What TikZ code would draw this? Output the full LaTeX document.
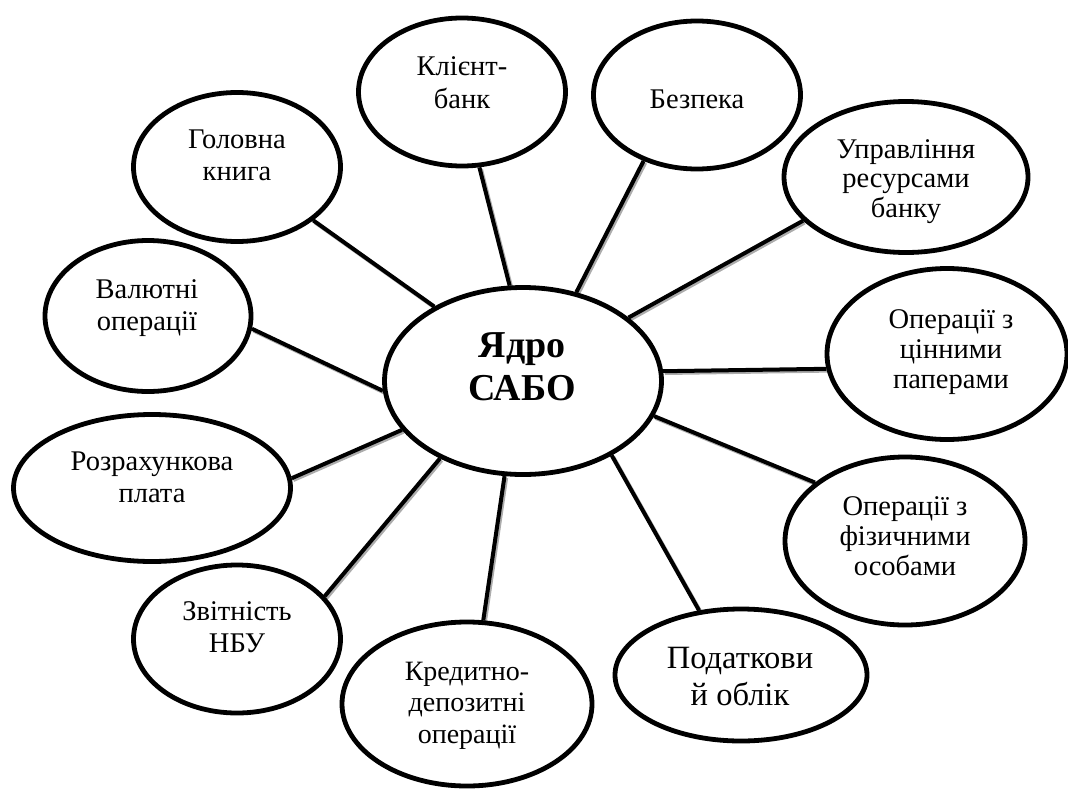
\documentclass[tikz,border=0pt]{standalone}
\usepackage{fontspec}
\setmainfont{Liberation Serif}
\newfontfamily\tnr{Liberation Serif}
\usetikzlibrary{shapes.geometric}
\pgfdeclarelayer{bg}
\pgfsetlayers{bg,main}
\begin{document}
\begin{tikzpicture}[x=1pt,y=-1pt,
  ell/.style={draw, ellipse, line width=4.8pt, fill=white, inner sep=0pt},
  conn/.style={line width=4pt, black,
    preaction={draw=gray!65, line width=4pt, transform canvas={shift={(1.6pt,-1.8pt)}}}},
  lbl/.style={align=center, anchor=base, inner sep=0pt},
  sz/.style={font=\tnr\fontsize{28.5}{32}\selectfont},
  szs/.style={font=\tnr\fontsize{28.5}{30}\selectfont}
]
\useasboundingbox (0,0) rectangle (1068,790);
% ellipses
\node[ell, minimum width=277pt, minimum height=187pt] (core) at (523,381) {};
\node[ell, minimum width=207pt, minimum height=148pt] (kb) at (462,92) {};
\node[ell, minimum width=207pt, minimum height=148pt] (bez) at (697,95) {};
\node[ell, minimum width=244pt, minimum height=151pt] (upr) at (906,177) {};
\node[ell, minimum width=240pt, minimum height=171pt] (cin) at (947,354) {};
\node[ell, minimum width=240pt, minimum height=168pt] (fiz) at (905,541) {};
\node[ell, minimum width=252pt, minimum height=132pt] (pod) at (741,675) {};
\node[ell, minimum width=250pt, minimum height=164pt] (kred) at (467,704) {};
\node[ell, minimum width=207pt, minimum height=148pt] (zvit) at (237,639) {};
\node[ell, minimum width=277pt, minimum height=147pt] (roz) at (152,488) {};
\node[ell, minimum width=206pt, minimum height=151pt] (val) at (148,316) {};
\node[ell, minimum width=207pt, minimum height=149pt] (gk) at (237,167) {};
% connectors
\begin{pgfonlayer}{bg}
\draw[conn] (gk.-35) -- (core.140.6);
\draw[conn] (kb.-77) -- (core.98.9);
\draw[conn] (bez.-129.4) -- (core.59.7);
\draw[conn] (upr.-157.4) -- (core.31.2);
\draw[conn] (cin.187.7) -- (core.4.5);
\draw[conn] (fiz.147.3) -- (core.-15.9);
\draw[conn] (pod.123.3) -- (core.-40.5);
\draw[conn] (kred.79.6) -- (core.-101.8);
\draw[conn] (zvit.26.6) -- (core.-137.4);
\draw[conn] (roz.4.5) -- (core.-158.3);
\draw[conn] (val.-7.7) -- (core.184.5);
\end{pgfonlayer}
% labels (anchor = baseline of last line)
\node[lbl, font=\tnr\bfseries\fontsize{38}{43}\selectfont] (tcore) at (522,400) {Ядро\\САБО};
\node[lbl, font=\tnr\fontsize{28.5}{33}\selectfont] (tkb) at (462,108) {Клієнт-\\банк};
\node[lbl, sz] (tbez) at (697,108) {Безпека};
\node[lbl, font=\tnr\fontsize{28.5}{29.5}\selectfont] (tupr) at (906,217) {Управління\\ресурсами\\банку};
\node[lbl, szs] (tcin) at (951,388) {Операції з\\цінними\\паперами};
\node[lbl, szs] (tfiz) at (905,575) {Операції з\\фізичними\\особами};
\node[lbl, font=\tnr\fontsize{32.5}{37}\selectfont] (tpod) at (740,705) {Податкови\\й облік};
\node[lbl, font=\tnr\fontsize{28}{31.5}\selectfont] (tkred) at (467,743) {Кредитно-\\депозитні\\операції};
\node[lbl, sz] (tzvit) at (237,652) {Звітність\\НБУ};
\node[lbl, sz] (troz) at (152,502) {Розрахункова\\плата};
\node[lbl, sz] (tval) at (147,330) {Валютні\\операції};
\node[lbl, sz] (tgk) at (237,180) {Головна\\книга};
\end{tikzpicture}
\end{document}
